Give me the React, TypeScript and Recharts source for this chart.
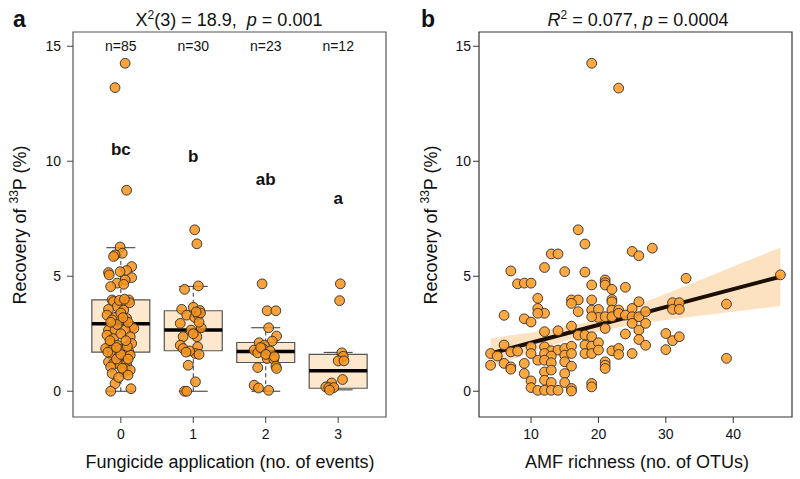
import React from 'react';
import {
  ScatterChart,
  ComposedChart,
  Scatter,
  XAxis,
  YAxis,
  ReferenceArea,
  ReferenceLine,
  Area,
  Line,
} from 'recharts';

const FONT = '"Liberation Sans", Arial, Helvetica, sans-serif';

// ---------- Panel a: fungicide application ----------
const fungicideEvents = [0, 1, 2, 3];
const sampleSizes = ['n=85', 'n=30', 'n=23', 'n=12'];
const sampleSizeY = 15;
const groupLetters = ['bc', 'b', 'ab', 'a'];
const groupLetterY = [10.5, 10.2, 9.2, 8.4];

const whiskerLow = [0, 0, 0, 0.06];
const quartile1 = [1.7, 1.76, 1.25, 0.13];
const medians = [2.93, 2.66, 1.73, 0.89];
const quartile3 = [3.97, 3.5, 2.12, 1.6];
const whiskerHigh = [6.24, 4.56, 2.76, 1.69];

// [jitter offset, recovery %]
const group0Points: [number, number][] = [
  [0.06, 14.26], [-0.08, 13.2], [0.08, 8.74],
  [-0.01, 6.27], [0.02, 6.0], [-0.08, 5.93], [-0.1, 5.86],
  [0.15, 5.42], [0.08, 5.25], [-0.01, 5.2], [-0.17, 5.16], [-0.16, 5.06], [0.15, 4.94], [0.06, 4.84],
  [-0.05, 4.7], [0.04, 4.65], [-0.14, 4.55],
  [-0.12, 3.97], [-0.1, 3.9], [0.11, 3.97], [0.02, 3.75], [-0.05, 3.68], [-0.17, 3.56], [0.04, 3.53],
  [-0.19, 3.31], [-0.08, 3.21], [-0.12, 3.1], [0.04, 3.1], [0.08, 3.17], [0.15, 2.81], [0.18, 2.73],
  [-0.17, 2.66], [-0.08, 2.66], [0.06, 2.66], [-0.19, 2.44], [-0.1, 2.29], [0.13, 2.37], [-0.14, 2.08],
  [-0.05, 2.0], [0.15, 2.08], [-0.21, 1.86], [-0.12, 1.79], [-0.01, 1.82], [0.04, 1.72], [0.11, 1.72],
  [-0.12, 1.57], [-0.03, 1.5], [0.13, 1.57], [-0.17, 1.28], [-0.1, 1.21], [-0.01, 1.13], [0.08, 1.21],
  [-0.14, 1.06], [0.06, 0.99], [0.04, 0.84], [0.13, 0.92], [-0.12, 0.77], [-0.08, 0.33], [-0.14, 0.0],
  [0.14, 0.11], [0.0, 3.4], [-0.05, 2.9], [0.1, 3.0], [-0.15, 2.2], [0.0, 2.5], [0.09, 1.95],
  [-0.06, 1.4], [0.02, 1.0], [0.1, 0.7], [-0.03, 0.6], [0.12, 3.85], [-0.02, 3.95], [0.0, 1.6],
  [-0.18, 1.7], [0.07, 2.2], [0.05, 4.0], [-0.14, 3.0], [0.1, 1.4], [-0.06, 1.9], [0.03, 3.2],
];
const group1Points: [number, number][] = [
  [0.02, 7.02], [0.05, 6.41], [-0.12, 4.43], [0.07, 4.58], [-0.16, 3.56], [0.0, 3.65], [0.09, 3.51],
  [-0.09, 3.31], [0.02, 3.21], [0.07, 3.31], [-0.18, 2.95], [-0.03, 2.66], [0.05, 2.37], [0.11, 2.76],
  [-0.14, 2.37], [-0.18, 2.0], [-0.14, 1.86], [0.06, 1.93], [0.03, 1.64], [-0.07, 1.13], [0.03, 0.41],
  [-0.12, 0.0], [-0.09, 0.0], [0.08, 3.0], [-0.05, 1.75], [0.0, 2.5], [0.1, 3.4], [-0.1, 1.7],
  [0.04, 3.45], [0.08, 1.6],
];
const group2Points: [number, number][] = [
  [-0.05, 4.67], [0.02, 3.5], [0.14, 3.5], [0.04, 2.76], [0.15, 2.4], [0.09, 2.18], [-0.09, 2.11],
  [-0.02, 2.0], [-0.16, 1.79], [-0.11, 1.67], [-0.04, 1.86], [0.02, 1.42], [0.11, 1.39], [0.14, 1.09],
  [0.15, 0.99], [-0.11, 1.03], [-0.16, 0.26], [-0.1, 0.14], [0.04, 0.04], [0.06, 1.75], [-0.07, 1.9],
  [0.0, 1.6], [0.12, 1.5],
];
const group3Points: [number, number][] = [
  [0.03, 4.67], [0.02, 3.94], [0.05, 1.67], [0.07, 1.52], [0.0, 1.32], [0.08, 1.32], [0.06, 0.51],
  [-0.09, 0.36], [-0.17, 0.19], [-0.13, 0.16], [-0.06, 0.16], [-0.12, 0.05],
];

// ---------- Panel b: AMF richness ----------
// [AMF richness (OTUs), recovery %]
const richnessPoints: [number, number][] = [
  [19, 14.26], [23, 13.18],
  [17, 7.02], [18, 6.4], [13, 5.97], [14, 5.97], [7, 5.23], [12, 5.38], [15, 5.2], [18, 5.18],
  [19, 4.62], [8, 4.67], [9, 4.7], [10, 4.7], [11, 4.04], [16, 3.97], [17, 3.97], [19, 3.97],
  [16, 3.82], [11, 3.6], [12, 3.39], [11, 3.39], [17, 3.46], [19, 3.53], [6, 3.3], [9, 3.15],
  [10, 3.01], [12, 2.59], [14, 2.63], [16, 2.83], [17, 2.44], [18, 2.44], [19, 2.37], [6, 2.01],
  [7, 1.71], [8, 1.74], [10, 1.93], [4, 1.64], [5, 1.53], [12, 1.93], [13, 1.76], [14, 1.79],
  [15, 1.86], [16, 1.96], [18, 2.01], [19, 1.96], [12, 1.64], [13, 1.53], [15, 1.57], [16, 1.64],
  [18, 1.64], [19, 1.64], [4, 1.13], [6, 1.21], [7, 1.06], [7, 0.96], [9, 1.21], [11, 1.35],
  [12, 1.35], [13, 1.24], [15, 1.28], [16, 1.09], [12, 0.84], [13, 0.92], [9, 0.77], [15, 0.77],
  [10, 0.45], [12, 0.48], [13, 0.38], [15, 0.38], [19, 0.34], [10, 0.16], [11, 0.04], [12, 0.04],
  [13, 0.04], [14, 0.04], [16, 0.12], [16, 0.01], [10, 1.64],
  [25, 6.08], [26, 5.89], [28, 6.22], [33, 4.91], [21, 4.84], [21, 4.72], [21, 4.62], [22, 4.43],
  [24, 4.52], [22, 3.99], [22, 3.89], [20, 3.56], [22, 3.53], [23, 3.53], [20, 3.21], [21, 3.24],
  [22, 3.24], [23, 3.39], [24, 3.31], [25, 3.6], [26, 3.89], [25, 3.24], [26, 3.24], [27, 3.46],
  [31, 3.85], [32, 3.85], [31, 3.56], [32, 3.56], [19, 3.24], [21, 2.73], [25, 2.95], [26, 2.66],
  [27, 2.95], [20, 2.11], [20, 1.79], [24, 2.49], [26, 2.25], [27, 2.0], [30, 2.51], [31, 2.2],
  [32, 2.37], [30, 1.81], [22, 1.76], [23, 1.86], [23, 1.6], [25, 1.64], [21, 1.28], [21, 1.13],
  [21, 0.99], [19, 0.19],
  [47, 5.06], [39, 3.79], [39, 1.43],
];

// fitted line and 95% confidence band
const fitRichness = [4, 10, 18, 25, 32, 40, 47];
const fitValue = [1.64, 2.11, 2.73, 3.27, 3.82, 4.44, 4.98];
const bandLow = [1.05, 1.67, 2.48, 2.89, 3.17, 3.46, 3.71];
const bandHigh = [2.3, 2.55, 2.98, 3.66, 4.47, 5.42, 6.25];

const yDomain: [number, number] = [-1.12, 15.62];
const yTicks = [0, 5, 10, 15];
const xDomainA: [number, number] = [-0.66, 3.66];
const xDomainB: [number, number] = [2.28, 48.72];
const xTicksB = [10, 20, 30, 40];

const boxHalf = 0.4;
const capHalf = 0.2;

const pointsA = [group0Points, group1Points, group2Points, group3Points].flatMap((pts, g) =>
  pts.map(([dx, y]) => ({ x: fungicideEvents[g] + dx, y }))
);
const sampleLabelData = fungicideEvents.map((g, i) => ({ x: g, y: sampleSizeY, label: sampleSizes[i] }));
const letterData = fungicideEvents.map((g, i) => ({ x: g, y: groupLetterY[i], label: groupLetters[i] }));
const pointsB = richnessPoints.map(([x, y]) => ({ x, y }));
const fitData = fitRichness.map((x, i) => ({ x, fit: fitValue[i], band: [bandLow[i], bandHigh[i]] }));

const PointA = (p: any) => (
  <circle cx={p.cx} cy={p.cy} r={4.9} fill="#F7931C" fillOpacity={0.85} stroke="#2b2b2b" strokeWidth={0.9} />
);
const PointB = (p: any) => (
  <circle cx={p.cx} cy={p.cy} r={4.9} fill="#FFA233" fillOpacity={0.92} stroke="#2b2b2b" strokeWidth={0.9} />
);
const makeText = (size: number, bold: boolean) => (p: any) => (
  <text
    x={p.cx}
    y={p.cy}
    textAnchor="middle"
    dominantBaseline="central"
    fontSize={size}
    fontWeight={bold ? 'bold' : 'normal'}
    fontFamily={FONT}
    fill="#111"
  >
    {p.payload.label}
  </text>
);

const tickStyle = { fontSize: 14, fill: '#111', fontFamily: FONT };

export default function App() {
  return (
    <div style={{ position: 'absolute', left: 0, top: 0, width: 800, height: 479, background: '#fff', fontFamily: FONT }}>
      <div style={{ position: 'absolute', left: 0, top: 0 }}>
        <ScatterChart width={400} height={479} margin={{ top: 32, right: 14, bottom: 32, left: 13 }}>
          <XAxis
            type="number"
            dataKey="x"
            domain={xDomainA}
            ticks={fungicideEvents}
            interval={0}
            allowDataOverflow
            axisLine={false}
            tickLine={{ stroke: '#444' }}
            tickSize={6}
            tickMargin={6}
            height={30}
            tick={tickStyle}
          />
          <YAxis
            type="number"
            dataKey="y"
            domain={yDomain}
            ticks={yTicks}
            interval={0}
            allowDataOverflow
            axisLine={false}
            tickLine={{ stroke: '#444' }}
            tickSize={6}
            tickMargin={6}
            width={60}
            tick={tickStyle}
          />
          <ReferenceArea x1={xDomainA[0]} x2={xDomainA[1]} y1={yDomain[0]} y2={yDomain[1]} fill="none" stroke="#555" strokeWidth={1.2} />
          {fungicideEvents.map((g, i) => (
            <ReferenceLine
              key={'wl' + i}
              segment={[{ x: g, y: whiskerLow[i] }, { x: g, y: quartile1[i] }]}
              stroke="#333"
              strokeDasharray="4 3"
            />
          ))}
          {fungicideEvents.map((g, i) => (
            <ReferenceLine
              key={'wh' + i}
              segment={[{ x: g, y: quartile3[i] }, { x: g, y: whiskerHigh[i] }]}
              stroke="#333"
              strokeDasharray="4 3"
            />
          ))}
          {fungicideEvents.map((g, i) => (
            <ReferenceLine
              key={'cl' + i}
              segment={[{ x: g - capHalf, y: whiskerLow[i] }, { x: g + capHalf, y: whiskerLow[i] }]}
              stroke="#333"
            />
          ))}
          {fungicideEvents.map((g, i) => (
            <ReferenceLine
              key={'ch' + i}
              segment={[{ x: g - capHalf, y: whiskerHigh[i] }, { x: g + capHalf, y: whiskerHigh[i] }]}
              stroke="#333"
            />
          ))}
          {fungicideEvents.map((g, i) => (
            <ReferenceArea
              key={'box' + i}
              x1={g - boxHalf}
              x2={g + boxHalf}
              y1={quartile1[i]}
              y2={quartile3[i]}
              fill="#FDE7CD"
              fillOpacity={1}
              stroke="#555"
              strokeWidth={1.2}
            />
          ))}
          {fungicideEvents.map((g, i) => (
            <ReferenceLine
              key={'med' + i}
              segment={[{ x: g - boxHalf, y: medians[i] }, { x: g + boxHalf, y: medians[i] }]}
              stroke="#000"
              strokeWidth={3.5}
            />
          ))}
          <Scatter data={pointsA} shape={PointA} isAnimationActive={false} />
          <Scatter data={sampleLabelData} shape={makeText(14, false)} isAnimationActive={false} />
          <Scatter data={letterData} shape={makeText(17, true)} isAnimationActive={false} />
        </ScatterChart>
      </div>

      <div style={{ position: 'absolute', left: 400, top: 0 }}>
        <ComposedChart width={400} height={479} data={fitData} margin={{ top: 32, right: 8, bottom: 32, left: 19 }}>
          <XAxis
            type="number"
            dataKey="x"
            domain={xDomainB}
            ticks={xTicksB}
            interval={0}
            allowDataOverflow
            axisLine={false}
            tickLine={{ stroke: '#333' }}
            tickSize={6}
            tickMargin={6}
            height={30}
            tick={tickStyle}
          />
          <YAxis
            type="number"
            dataKey="y"
            domain={yDomain}
            ticks={yTicks}
            interval={0}
            allowDataOverflow
            axisLine={false}
            tickLine={{ stroke: '#333' }}
            tickSize={6}
            tickMargin={2}
            width={60}
            tick={tickStyle}
          />
          <ReferenceArea x1={xDomainB[0]} x2={xDomainB[1]} y1={yDomain[0]} y2={yDomain[1]} fill="none" stroke="#333" strokeWidth={1.2} />
          <Area dataKey="band" type="linear" fill="#FDE2C2" fillOpacity={1} stroke="none" isAnimationActive={false} />
          <Scatter data={pointsB} shape={PointB} isAnimationActive={false} />
          <Line dataKey="fit" type="linear" stroke="#1c0f02" strokeWidth={4} dot={false} isAnimationActive={false} />
        </ComposedChart>
      </div>

      <svg width={800} height={479} style={{ position: 'absolute', left: 0, top: 0, pointerEvents: 'none' }} fontFamily={FONT}>
        <text x={13} y={27} fontSize={23} fontWeight="bold" fill="#111">a</text>
        <text x={229} y={26} textAnchor="middle" fontSize={18} fill="#111" style={{ whiteSpace: 'pre' }}>
          X<tspan dy={-7} fontSize={12}>2</tspan>
          <tspan dy={7}>(3) = 18.9,  </tspan>
          <tspan fontStyle="italic">p</tspan>
          <tspan> = 0.001</tspan>
        </text>
        <text x={421} y={27} fontSize={23} fontWeight="bold" fill="#111">b</text>
        <text x={638} y={26} textAnchor="middle" fontSize={18} fill="#111" style={{ whiteSpace: 'pre' }}>
          <tspan fontStyle="italic">R</tspan>
          <tspan dy={-7} fontSize={12}>2</tspan>
          <tspan dy={7}> = 0.077, </tspan>
          <tspan fontStyle="italic">p</tspan>
          <tspan> = 0.0004</tspan>
        </text>
        <text x={20} y={225} transform="rotate(-90 20 225)" textAnchor="middle" dominantBaseline="central" fontSize={18} fill="#111">
          Recovery of <tspan dy={-6} fontSize={12}>33</tspan>
          <tspan dy={6}>P (%)</tspan>
        </text>
        <text x={431} y={225} transform="rotate(-90 431 225)" textAnchor="middle" dominantBaseline="central" fontSize={18} fill="#111">
          Recovery of <tspan dy={-6} fontSize={12}>33</tspan>
          <tspan dy={6}>P (%)</tspan>
        </text>
        <text x={230} y={468} textAnchor="middle" fontSize={18} fill="#111">Fungicide application (no. of events)</text>
        <text x={637} y={468} textAnchor="middle" fontSize={18} fill="#111">AMF richness (no. of OTUs)</text>
      </svg>
    </div>
  );
}
